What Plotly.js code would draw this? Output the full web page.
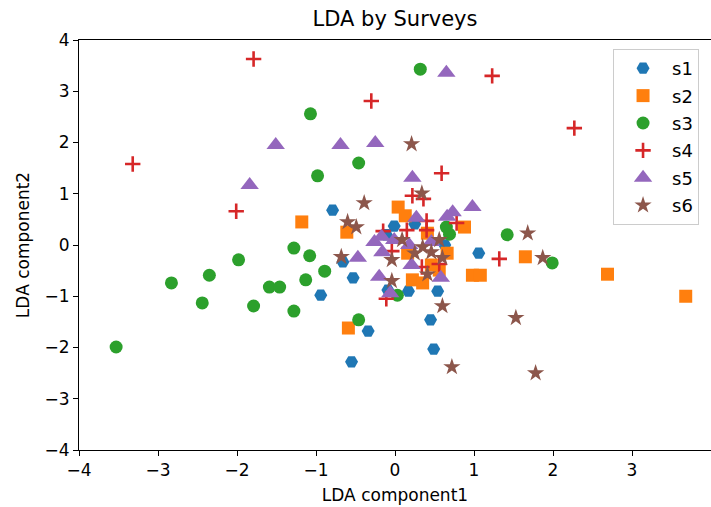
<!DOCTYPE html>
<html>
<head>
<meta charset="utf-8">
<script src="https://cdn.plot.ly/plotly-3.0.1.min.js"></script>
<style>
  html, body { margin: 0; padding: 0; background: #fff; }
  #chart { width: 711px; height: 507px; }
</style>
</head>
<body>
<div id="chart"></div>
<script>
// LDA projections, one group per survey
const s1X = [-0.79, -0.01, -0.11, 0.25, 0.63, -0.66, -0.53, -0.94, -0.09, 0.17, 0.54, 1.06, 0.45, 0.49, -0.34, -0.55];
const s1Y = [0.68, 0.37, 0.20, 0.41, 0.00, -0.33, -0.64, -0.98, -0.88, -0.90, -0.90, -0.16, -1.46, -2.03, -1.68, -2.28];

const s2X = [-1.18, -0.61, -0.59, 0.04, 0.13, 0.41, 0.88, 0.16, 0.66, 0.46, 0.22, 0.35, 0.56, 0.98, 1.08, 1.65, 2.69, 3.68];
const s2Y = [0.45, 0.25, -1.62, 0.74, 0.57, 0.23, 0.35, -0.16, -0.16, -0.39, -0.68, -0.74, -0.49, -0.59, -0.59, -0.23, -0.57, -1.00];

const s3X = [0.32, -1.07, -0.46, -0.98, -3.53, -2.83, -2.35, -1.98, -2.44, -1.79, -1.59, -1.46, -1.28, -1.08, -1.13, -0.89, -1.28, -0.46, 0.03, 0.65, 0.69, 1.42, 1.99];
const s3Y = [3.43, 2.56, 1.60, 1.35, -1.99, -0.74, -0.59, -0.29, -1.13, -1.19, -0.82, -0.82, -0.06, -0.21, -0.68, -0.51, -1.29, -1.46, -0.98, 0.35, 0.21, 0.20, -0.35];

const s4X = [-1.79, -3.32, -2.01, -0.30, 1.23, 2.27, 0.59, 0.22, 0.36, 0.40, 0.40, 0.78, 0.15, -0.15, -0.04, 0.34, 0.56, -0.11, 1.32];
const s4Y = [3.63, 1.58, 0.66, 2.81, 3.30, 2.28, 1.40, 0.96, 0.90, 0.47, 0.29, 0.43, 0.29, 0.27, -0.12, -0.43, -0.37, -1.05, -0.27];

const s5X = [0.65, -1.51, -0.69, -0.25, -1.84, 0.22, 0.98, 0.73, 0.66, 0.27, -0.26, -0.17, -0.01, -0.16, 0.18, 0.46, -0.47, -0.20, 0.21, 0.58, -0.06];
const s5Y = [3.36, 1.95, 1.95, 1.99, 1.17, 1.31, 0.74, 0.64, 0.55, 0.53, 0.06, 0.16, 0.10, -0.14, 0.00, 0.06, -0.25, -0.62, -0.39, -0.64, -0.94];

const s6X = [0.21, 0.34, -0.39, -0.60, -0.49, 0.09, 0.56, 0.35, 0.46, 0.25, -0.04, 0.60, -0.68, 0.41, -0.04, 0.60, 1.68, 1.87, 1.53, 0.72, 1.78];
const s6Y = [1.97, 1.01, 0.82, 0.45, 0.35, 0.10, 0.10, -0.04, -0.14, -0.16, -0.29, -0.25, -0.23, -0.57, -0.70, -1.19, 0.23, -0.25, -1.42, -2.38, -2.50];

const surveyNames = ['s1', 's2', 's3', 's4', 's5', 's6'];
const xs = [s1X, s2X, s3X, s4X, s5X, s6X];
const ys = [s1Y, s2Y, s3Y, s4Y, s5Y, s6Y];

const colors = ['#1f77b4', '#ff7f0e', '#2ca02c', '#d62728', '#9467bd', '#8c564b'];
const symbols = ['hexagon2', 'square', 'circle', 'cross-thin', 'triangle-up', 'star'];
const sizes = [13, 13, 13, 11, 16, 13];

const traces = surveyNames.map((name, i) => ({
  type: 'scatter',
  mode: 'markers',
  name: name,
  legendgroup: name,
  x: xs[i],
  y: ys[i],
  marker: {
    symbol: symbols[i],
    size: sizes[i],
    color: colors[i],
    line: symbols[i] === 'cross-thin'
      ? { color: colors[i], width: 2.6 }
      : { width: 0 }
  }
}));

const axisCommon = {
  range: [-4, 4],
  dtick: 1,
  tick0: 0,
  showgrid: false,
  zeroline: false,
  showline: true,
  mirror: true,
  linecolor: '#000',
  linewidth: 1,
  ticks: 'outside',
  ticklen: 5,
  tickwidth: 1,
  tickcolor: '#000',
  tickfont: { family: 'DejaVu Sans', size: 17, color: '#000' }
};

const layout = {
  width: 711,
  height: 507,
  margin: { l: 79, r: 0, t: 40, b: 57 },
  paper_bgcolor: '#fff',
  plot_bgcolor: '#fff',
  font: { family: 'DejaVu Sans', color: '#000' },
  title: {
    text: 'LDA by Surveys',
    font: { family: 'DejaVu Sans', size: 21, color: '#000' },
    x: 0.5,
    xref: 'paper',
    y: 1 - 19 / 507,
    yref: 'container',
    yanchor: 'middle'
  },
  xaxis: Object.assign({}, axisCommon, {
    title: { text: 'LDA component1', font: { family: 'DejaVu Sans', size: 17, color: '#000' }, standoff: 9 }
  }),
  yaxis: Object.assign({}, axisCommon, {
    title: { text: 'LDA component2', font: { family: 'DejaVu Sans', size: 17, color: '#000' }, standoff: 10 }
  }),
  showlegend: true,
  legend: {
    x: 0.845,
    y: 0.978,
    xanchor: 'left',
    yanchor: 'top',
    bgcolor: '#fff',
    bordercolor: '#cccccc',
    borderwidth: 1,
    font: { family: 'DejaVu Sans', size: 18, color: '#000' },
    itemwidth: 48,
    tracegroupgap: 1
  }
};

Plotly.newPlot('chart', traces, layout, { displayModeBar: false, staticPlot: true });
</script>
</body>
</html>
